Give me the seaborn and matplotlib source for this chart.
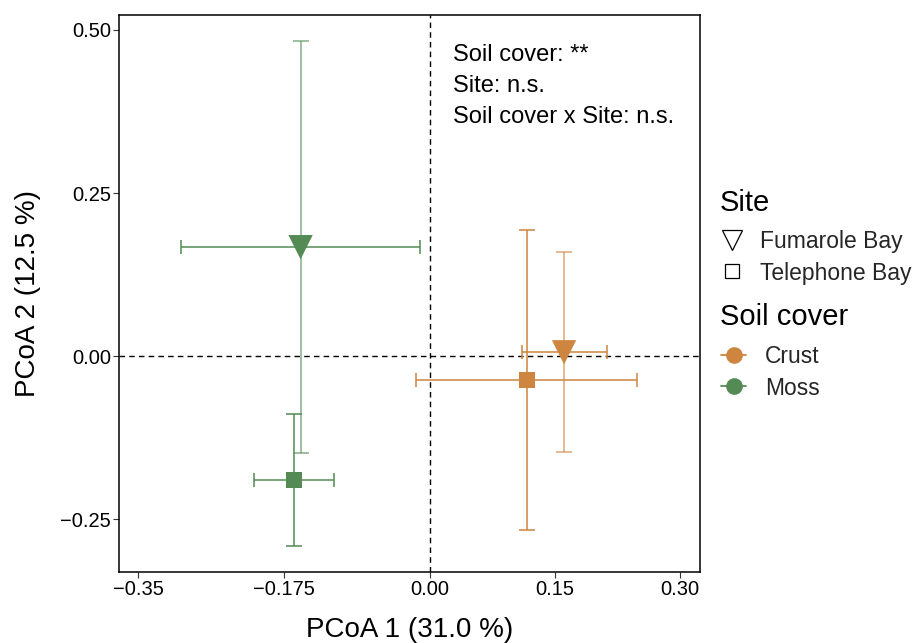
import matplotlib
matplotlib.use("Agg")
import matplotlib.pyplot as plt
from matplotlib.lines import Line2D
import seaborn as sns
import pandas as pd

soil_cover = ["Moss", "Moss", "Crust", "Crust"]
site = ["Fumarole Bay", "Telephone Bay", "Fumarole Bay", "Telephone Bay"]
pcoa1 = [-0.155, -0.163, 0.161, 0.116]
pcoa2 = [0.167, -0.190, 0.006, -0.037]
pcoa1_err = [0.143, 0.048, 0.051, 0.133]
pcoa2_err = [0.316, 0.101, 0.153, 0.230]

xticks = [-0.35, -0.175, 0.00, 0.15, 0.30]
xticklabels = ["\u22120.35", "\u22120.175", "0.00", "0.15", "0.30"]
yticks = [-0.25, 0.00, 0.25, 0.50]
yticklabels = ["\u22120.25", "0.00", "0.25", "0.50"]
stats_lines = ["Soil cover: **", "Site: n.s.", "Soil cover x Site: n.s."]
site_levels = ["Fumarole Bay", "Telephone Bay"]
soil_levels = ["Crust", "Moss"]

df = pd.DataFrame({"Soil cover": soil_cover, "Site": site,
                   "PCoA1": pcoa1, "PCoA2": pcoa2,
                   "e1": pcoa1_err, "e2": pcoa2_err})

palette = {"Crust": "#CD853F", "Moss": "#548B54"}
markers = {"Fumarole Bay": "v", "Telephone Bay": "s"}
msize = {"Fumarole Bay": 17.5, "Telephone Bay": 11.5}

sns.set_theme(style="white")
plt.rcParams["font.family"] = ["Liberation Sans", "DejaVu Sans"]

fig = plt.figure(figsize=(9.21, 6.43), dpi=100)
ax = fig.add_axes([0.129, 0.110, 0.631, 0.867])

ax.axvline(0, color="black", ls=(0, (4, 3)), lw=1, zorder=1)
ax.axhline(0, color="black", ls=(0, (4, 3)), lw=1, zorder=1)

for _, r in df.iterrows():
    c = palette[r["Soil cover"]]
    va = 0.6 if r["Site"] == "Fumarole Bay" else 0.85
    ax.errorbar(r["PCoA1"], r["PCoA2"], yerr=r["e2"], fmt="none", ecolor=c,
                alpha=va, elinewidth=1.3, capsize=5.8, capthick=1.3, zorder=2)
    ax.errorbar(r["PCoA1"], r["PCoA2"], xerr=r["e1"], fmt="none", ecolor=c,
                alpha=0.85, elinewidth=1.3, capsize=4.7, capthick=1.3, zorder=2)

for s in site_levels:
    sub = df[df["Site"] == s]
    sns.scatterplot(data=sub, x="PCoA1", y="PCoA2", hue="Soil cover", palette=palette,
                    marker=markers[s], s=msize[s] ** 2, linewidth=0, ax=ax,
                    legend=False, zorder=3)

ax.set_xlim(-0.373, 0.324)
ax.set_ylim(-0.331, 0.523)
ax.set_xticks(xticks)
ax.set_xticklabels(xticklabels)
ax.set_yticks(yticks)
ax.set_yticklabels(yticklabels)
ax.tick_params(axis="both", which="both", direction="out", length=4, width=0.8,
               color="#333333", labelsize=14.5, labelcolor="black", pad=1.5,
               bottom=True, left=True)
for sp in ax.spines.values():
    sp.set_color("black")
    sp.set_linewidth(1.1)

ax.set_xlabel("PCoA 1 (31.0 %)", fontsize=20, color="black", labelpad=13)
ax.set_ylabel("PCoA 2 (12.5 %)", fontsize=20, color="black", labelpad=14)

for i, line in enumerate(stats_lines):
    ax.text(0.0275, 0.462 - i * 0.0475, line, fontsize=17, va="center", ha="left",
            color="black")

# legend titles
fig.text(720 / 921, 1 - 203 / 643, "Site", fontsize=21, va="center", ha="left", color="black")
fig.text(720 / 921, 1 - 317 / 643, "Soil cover", fontsize=21, va="center", ha="left", color="black")

site_handles = [Line2D([], [], ls="none", marker="v", markersize=14.5, markerfacecolor="none",
                       markeredgecolor="black", markeredgewidth=0.9),
                Line2D([], [], ls="none", marker="s", markersize=10.5, markerfacecolor="none",
                       markeredgecolor="black", markeredgewidth=0.9)]
leg1 = ax.legend(site_handles, site_levels,
                 loc="center left", bbox_to_anchor=(716 / 921, 1 - 257.5 / 643),
                 bbox_transform=fig.transFigure,
                 frameon=False, fontsize=16.5, handlelength=1.4,
                 handletextpad=0.5, labelspacing=0.35, borderaxespad=0, borderpad=0)
ax.add_artist(leg1)

soil_handles = [Line2D([], [], color=palette[k], lw=1.3, marker="o", markersize=12,
                       markeredgewidth=0) for k in soil_levels]
leg2 = ax.legend(soil_handles, soil_levels,
                 loc="center left", bbox_to_anchor=(721 / 921, 1 - 372.5 / 643),
                 bbox_transform=fig.transFigure,
                 frameon=False, fontsize=16.5, handlelength=1.1,
                 handletextpad=0.83, labelspacing=0.35, borderaxespad=0, borderpad=0)

fig.savefig("out.png", dpi=100)
